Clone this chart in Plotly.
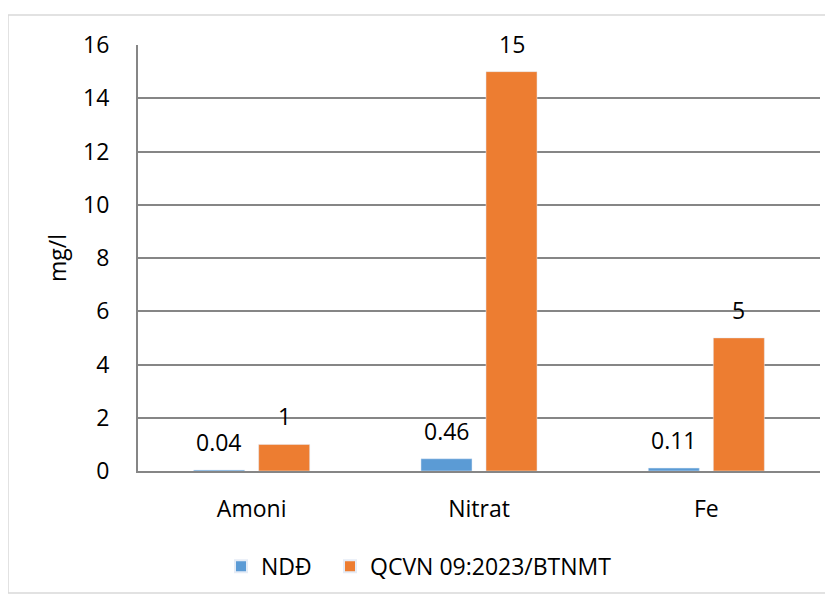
import plotly.graph_objects as go

categories = ["Amoni", "Nitrat", "Fe"]
ndd_values = [0.04, 0.46, 0.11]
qcvn_values = [1, 15, 5]
ndd_labels = ["0.04", "0.46", "0.11"]
qcvn_labels = ["1", "15", "5"]
y_ticks = [0, 2, 4, 6, 8, 10, 12, 14, 16]

FONT = "Open Sans"
FS = 23
BLUE = "#5B9BD5"
ORANGE = "#ED7D31"

fig = go.Figure()
fig.add_trace(go.Bar(x=categories, y=ndd_values, name="NDĐ", marker_color=BLUE, legend="legend"))
fig.add_trace(go.Bar(x=categories, y=qcvn_values, name="QCVN 09:2023/BTNMT", marker_color=ORANGE,
                     legend="legend2"))

annotations = []
for c, v, t in zip(categories, ndd_values, ndd_labels):
    annotations.append(dict(x=c, y=v, text=t, showarrow=False, xshift=-32.5,
                            yanchor="bottom", yshift=10, font=dict(size=FS, color="#000")))
for c, v, t in zip(categories, qcvn_values, qcvn_labels):
    annotations.append(dict(x=c, y=v, text=t, showarrow=False, xshift=32.5,
                            yanchor="bottom", yshift=10, font=dict(size=FS, color="#000")))

# page body has an 8px offset
PW = 682.0
PH = 426.0
leg_common = dict(orientation="h", xanchor="left", y=-0.173, yanchor="top",
                  font=dict(size=FS), itemsizing="constant", itemwidth=30,
                  bgcolor="rgba(0,0,0,0)")
fig.update_layout(
    width=825, height=598,
    margin=dict(l=130, r=13, t=37, b=135, autoexpand=False),
    paper_bgcolor="white", plot_bgcolor="white",
    font=dict(family=FONT, size=FS, color="#000"),
    barmode="group", bargap=0.428, bargroupgap=0.215,
    showlegend=True,
    legend=dict(x=(221 - 138) / PW, **leg_common),
    legend2=dict(x=(330 - 138) / PW, **leg_common),
    annotations=annotations,
    shapes=[dict(type="rect", xref="paper", yref="paper",
                 x0=-130 / PW, x1=(820 - 130) / PW,
                 y0=-(585 - 463) / PH, y1=1 + 30 / PH,
                 line=dict(color="#d9d9d9", width=1.5), fillcolor="rgba(0,0,0,0)", layer="below")],
)
fig.update_xaxes(showgrid=False, showline=True, linecolor="#868686", linewidth=2,
                 ticks="", tickfont=dict(size=FS), ticklabelstandoff=16)
fig.update_yaxes(range=[0, 16], tickvals=y_ticks, showgrid=True, gridcolor="#868686", gridwidth=1.5,
                 showline=True, linecolor="#868686", linewidth=2, zeroline=False,
                 tickfont=dict(size=FS), ticklabelstandoff=22,
                 title=dict(text="mg/l", font=dict(size=FS), standoff=10))

fig.write_html("out.html")
